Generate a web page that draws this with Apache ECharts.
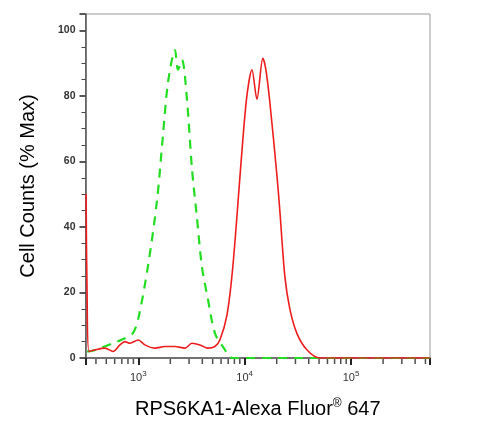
<!DOCTYPE html><html><head><meta charset="utf-8">
<script src="https://cdn.jsdelivr.net/npm/echarts@6/dist/echarts.min.js"></script>
<style>body{margin:0}#c{width:494px;height:430px}</style></head><body><div id="c"></div>
<script>
const redX=[323,330,344,392,486,578,672,750,835,1000,1155,1435,1778,2213,2748,3191,3793,4510,5248,5845,6808,7745,9419,10490,11700,13030,14830,15820,17250,20060,21400,23850,26570,30900,38400,50800,552000];
const redY=[50,20,2,2.5,3,2,4,5,4.5,5.5,4,3,3.5,3.5,3,4.5,4,3,3.5,5.5,13,28,63,80,88,79,91.5,88,78,56,45,25,15,7.6,2.5,0,0];
const greenX=[330,344,436,631,750,891,1000,1233,1499,1706,1901,2213,2362,2573,2866,3191,3555,3960,4510,5248,6237,7745,552000];
const greenY=[2,2,3,5,6,7.6,12,28,48,68,84,94,88,91,79,58,43,28,18,7.6,3.5,0,0];
const minorTicks=[400,500,600,700,800,900,2000,3000,4000,5000,6000,7000,8000,9000,20000,30000,40000,50000,60000,70000,80000,90000,200000,300000,400000,500000];
const xLabels={1000:'3',10000:'4',100000:'5'};
const chart=echarts.init(document.getElementById('c'));
chart.setOption({
 animation:false,
 grid:{left:85.5,right:64,top:14,bottom:72,show:true,borderColor:'#999',borderWidth:1},
 xAxis:{type:'log',min:319,max:552000,logBase:10,
  name:'{a|RPS6KA1-Alexa Fluor}{s|®}{a| 647}',nameLocation:'middle',nameGap:40,
  nameTextStyle:{rich:{a:{fontSize:20,color:'#000',fontFamily:'Arial, Liberation Sans'},s:{fontSize:12,color:'#000',verticalAlign:'top',padding:[0,0,10,0],fontFamily:'Arial, Liberation Sans'}}},
  axisLine:{lineStyle:{color:'#555',width:1.5}},
  axisTick:{inside:false,length:7,lineStyle:{color:'#222',width:2}},
  splitLine:{show:false},
  axisLabel:{margin:12,formatter:v=>xLabels[Math.round(v)]?'{b|10}{s|'+xLabels[Math.round(v)]+'}':'',
   rich:{b:{fontSize:11,color:'#333',fontFamily:'Arial, Liberation Sans'},s:{fontSize:8,color:'#333',verticalAlign:'top',padding:[0,0,8,0]}}}},
 yAxis:{type:'value',min:0,max:105,interval:20,
  name:'Cell Counts (% Max)',nameLocation:'middle',nameGap:47,
  nameTextStyle:{fontSize:20,color:'#000',fontFamily:'Arial, Liberation Sans'},
  axisLine:{show:true,lineStyle:{color:'#555',width:1.5}},
  axisTick:{show:true,length:6,lineStyle:{color:'#222',width:1.5}},
  minorTick:{show:true,splitNumber:4,length:4,lineStyle:{color:'#444'}},
  splitLine:{show:false},
  axisLabel:{fontSize:10.5,fontWeight:'bold',color:'#333',margin:10,fontFamily:'Arial, Liberation Sans',formatter:v=>v>100?'':String(v)}},
 series:[
  {type:'scatter',data:minorTicks.map(v=>[v,0]),symbol:'rect',symbolSize:[1.5,5],symbolOffset:[0,3.5],itemStyle:{color:'#222'},silent:true,clip:false,z:1},
  {type:'line',data:greenX.map((x,i)=>[x,greenY[i]]),showSymbol:false,smooth:0.3,lineStyle:{color:'#22dd22',width:2.2,type:[9,7]},z:2},
  {type:'line',data:redX.map((x,i)=>[x,redY[i]]),showSymbol:false,smooth:0.3,lineStyle:{color:'#ee1c1c',width:1.6},z:3}
 ]
});
</script></body></html>
